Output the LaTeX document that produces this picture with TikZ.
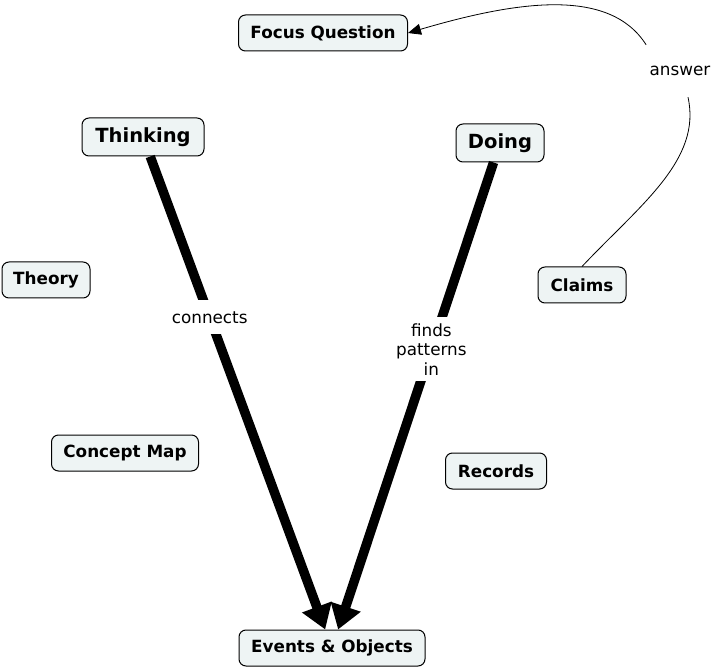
\documentclass[tikz,border=0pt]{standalone}
\usepackage{fontspec}
\setmainfont{DejaVu Sans}
\usetikzlibrary{arrows.meta}
\definecolor{boxfill}{RGB}{238,244,244}

\begin{document}
\begin{tikzpicture}[x=1pt,y=-1pt,
		box/.style={draw,line width=1pt,rounded corners=7pt,fill=boxfill,font=\bfseries\fontsize{16.8}{20}\selectfont,minimum height=36pt,inner xsep=4pt},
		big/.style={box,font=\bfseries\fontsize{19.5}{23}\selectfont,minimum height=38pt},
		label/.style={fill=white,font=\fontsize{16.8}{19.5}\selectfont,align=center},
		heavy/.style={line width=9.5pt,-{Triangle[length=24pt,width=30pt]}},
		thin/.style={line width=0.8pt}]
	\useasboundingbox (0,0) rectangle (718,671);
	\node[box,minimum width=169pt] (fq) at (323,33)  {Focus Question};
	\node[big,minimum width=122pt] (th) at (143,137) {Thinking};
	\node[big,minimum width=88pt]  (do) at (500,143) {Doing};
	\node[box,minimum width=88pt]  (ty) at (46,280)  {Theory};
	\node[box,minimum width=88pt]  (cl) at (582,285) {Claims};
	\node[box,minimum width=147pt] (cm) at (125,453) {Concept Map};
	\node[box,minimum width=101pt] (re) at (496,471) {Records};
	\node[box,minimum width=186pt] (ev) at (332,648) {Events \& Objects};
	\node[font=\fontsize{16.8}{19.5}\selectfont,minimum height=52pt,minimum width=64pt] (ans) at (680,71) {answer};
	\path
		(th) edge [heavy] node [label,pos=0.34,inner ysep=11pt] {connects} (ev)
		(do) edge [heavy] node [label,pos=0.40,inner ysep=6pt] {finds\\patterns\\in} (ev);
	\draw[thin] (cl.north) .. controls (640,205) and (702,160) .. ([xshift=8pt]ans.south);
	\draw[thin,-{Triangle[length=13pt,width=11pt]}] (ans.north west) .. controls (610,-12) and (520,0) .. (fq.east);
\end{tikzpicture}
\end{document}
